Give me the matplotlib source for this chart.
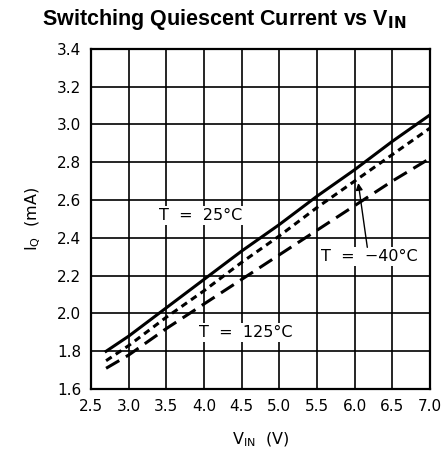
import matplotlib
matplotlib.use('Agg')
import matplotlib.pyplot as plt

vin = [2.7, 3.0, 3.5, 4.0, 4.5, 5.0, 5.5, 6.0, 6.5, 7.0]
iq_25 = [1.80, 1.88, 2.03, 2.18, 2.33, 2.47, 2.62, 2.76, 2.91, 3.05]
iq_m40 = [1.75, 1.83, 1.98, 2.12, 2.27, 2.41, 2.56, 2.70, 2.84, 2.98]
iq_125 = [1.71, 1.78, 1.92, 2.05, 2.18, 2.31, 2.44, 2.57, 2.70, 2.82]

x_ticks = [2.5, 3.0, 3.5, 4.0, 4.5, 5.0, 5.5, 6.0, 6.5, 7.0]
y_ticks = [1.6, 1.8, 2.0, 2.2, 2.4, 2.6, 2.8, 3.0, 3.2, 3.4]

fig = plt.figure(figsize=(4.44, 4.61), dpi=100)
ax = fig.add_axes([0.205, 0.156, 0.763, 0.738])

ax.plot(vin, iq_25, color='black', lw=2.2, zorder=3)
ax.plot(vin, iq_m40, color='black', lw=2.2, dashes=(2.2, 1.6), zorder=3)
ax.plot(vin, iq_125, color='black', lw=2.2, dashes=(5, 2.5), zorder=3)

ax.set_xlim(2.5, 7.0)
ax.set_ylim(1.6, 3.4)
ax.set_xticks(x_ticks)
ax.set_yticks(y_ticks)
ax.set_xticklabels([f'{v:.1f}' for v in x_ticks])
ax.set_yticklabels([f'{v:.1f}' for v in y_ticks])
ax.grid(True, color='black', lw=1.2)
ax.set_axisbelow(True)
for s in ax.spines.values():
    s.set_linewidth(1.6)
ax.tick_params(length=0, labelsize=11, pad=7)

box = dict(facecolor='white', edgecolor='none', pad=1.5)
ax.text(3.95, 2.52, 'T  =  25°C', fontsize=11.5, ha='center', va='center', bbox=box, zorder=4)
ax.text(6.2, 2.30, 'T  =  −40°C', fontsize=11.5, ha='center', va='center', bbox=box, zorder=4)
ax.text(4.56, 1.90, 'T  =  125°C', fontsize=11.5, ha='center', va='center', bbox=box, zorder=4)
ax.annotate('', xy=(6.05, 2.69), xytext=(6.17, 2.35),
            arrowprops=dict(arrowstyle='-|>', color='black', lw=1, mutation_scale=10,
                            shrinkA=0, shrinkB=0), zorder=5)

ax.set_xlabel(r'V$_{\mathregular{IN}}$  (V)', fontsize=11.5, labelpad=12)
ax.set_ylabel(r'I$_{\mathregular{Q}}$  (mA)', fontsize=11.5, labelpad=10)
fig.suptitle(r'Switching Quiescent Current vs V$_{\mathbf{IN}}$', x=0.505, y=0.985,
             fontsize=15.5, fontweight='bold', family='Liberation Sans')

fig.savefig('out.png', dpi=100)
